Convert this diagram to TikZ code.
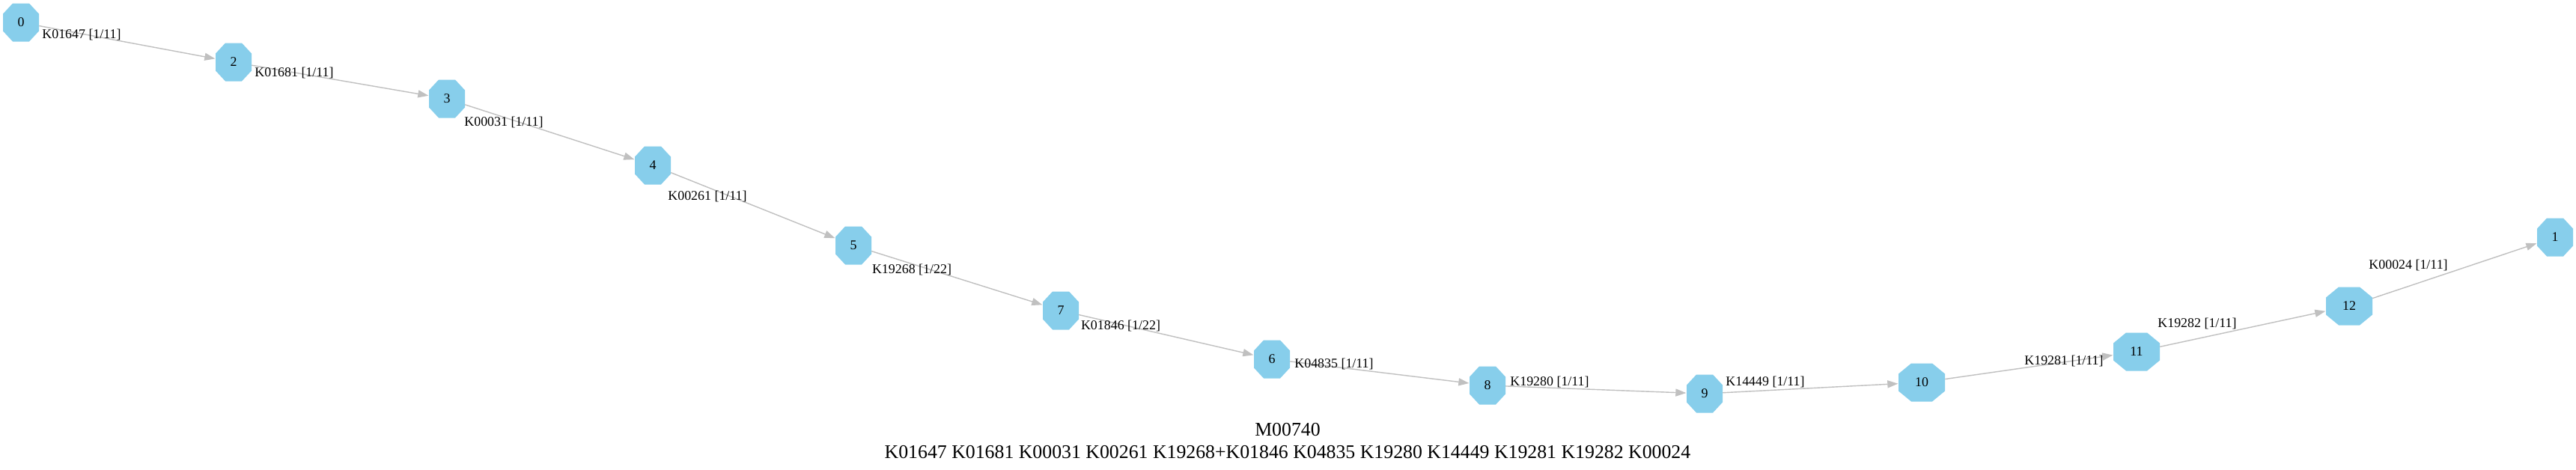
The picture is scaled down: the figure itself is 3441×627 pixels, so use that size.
\documentclass[tikz,border=0pt]{standalone}
\usepackage{fontspec}
\setmainfont{Liberation Serif}
\usetikzlibrary{arrows.meta}
\definecolor{nodefill}{HTML}{87CEEB}
\definecolor{edgegray}{HTML}{C0C0C0}
% #1 name, #2 x, #3 y, #4 half width, #5 horizontal cut, #6 label
\newcommand\octnode[6]{%
  \fill[nodefill] (#2-#4+#5,#3-25.5) -- (#2+#4-#5,#3-25.5) -- (#2+#4,#3-11.5) -- (#2+#4,#3+11.5)
    -- (#2+#4-#5,#3+25.5) -- (#2-#4+#5,#3+25.5) -- (#2-#4,#3+11.5) -- (#2-#4,#3-11.5) -- cycle;
  \node[octbase, minimum width=2*#4] (#1) at (#2,#3) {#6};
}
\begin{document}
\begin{tikzpicture}[x=1pt,y=-1pt,
  octbase/.style={rectangle, minimum height=51pt, inner sep=0pt,
    font=\fontsize{17.9}{20}\selectfont},
  edge/.style={draw=edgegray, line width=1.4pt, -{Triangle[length=14pt,width=10pt]}, shorten >=0.5pt},
  lbl/.style={inner sep=0pt, font=\fontsize{17.9}{20}\selectfont},
  ttl/.style={inner sep=0pt, font=\fontsize{25.8}{30}\selectfont, align=center}]
\useasboundingbox (0,0) rectangle (3441,627);
\fill[white] (0,0) rectangle (3441,627);
% nodes
\octnode{n0}{28}{30}{24}{13}{0}
\octnode{n2}{312}{83}{24}{13}{2}
\octnode{n3}{597}{132}{24}{13}{3}
\octnode{n4}{872}{221}{24}{13}{4}
\octnode{n5}{1140}{328}{24}{13}{5}
\octnode{n7}{1417}{415}{24}{13}{7}
\octnode{n6}{1699}{480}{24}{13}{6}
\octnode{n8}{1987}{515}{24}{13}{8}
\octnode{n9}{2277}{526}{24}{13}{9}
\octnode{n10}{2567}{511}{31}{17}{10}
\octnode{n11}{2854}{470}{31}{17}{11}
\octnode{n12}{3138}{409}{31}{17}{12}
\octnode{n1}{3413}{317}{24}{13}{1}
% edges
\draw[edge] (n0) -- (n2);
\draw[edge] (n2) -- (n3);
\draw[edge] (n3) -- (n4);
\draw[edge] (n4) -- (n5);
\draw[edge] (n5) -- (n7);
\draw[edge] (n7) -- (n6);
\draw[edge] (n6) -- (n8);
\draw[edge] (n8) -- (n9);
\draw[edge] (n9) -- (n10);
\draw[edge] (n10) -- (n11);
\draw[edge] (n11) -- (n12);
\draw[edge] (n12) -- (n1);
% edge labels
\node[lbl] (l02)   at (109,46)   {K01647 [1/11]};
\node[lbl] (l23)   at (393,97)   {K01681 [1/11]};
\node[lbl] (l34)   at (673,163)  {K00031 [1/11]};
\node[lbl] (l45)   at (945,262)  {K00261 [1/11]};
\node[lbl] (l57)   at (1218,360) {K19268 [1/22]};
\node[lbl] (l76)   at (1497,435) {K01846 [1/22]};
\node[lbl] (l68)   at (1782,486) {K04835 [1/11]};
\node[lbl] (l89)   at (2070,510) {K19280 [1/11]};
\node[lbl] (l910)  at (2358,510) {K14449 [1/11]};
\node[lbl] (l1011) at (2757,482) {K19281 [1/11]};
\node[lbl] (l1112) at (2935,432) {K19282 [1/11]};
\node[lbl] (l121)  at (3217,354) {K00024 [1/11]};
% title
\node[ttl, anchor=base] (t1) at (1720,582) {M00740};
\node[ttl, anchor=base] (t2) at (1720,612) {K01647 K01681 K00031 K00261 K19268+K01846 K04835 K19280 K14449 K19281 K19282 K00024};
\end{tikzpicture}
\end{document}
